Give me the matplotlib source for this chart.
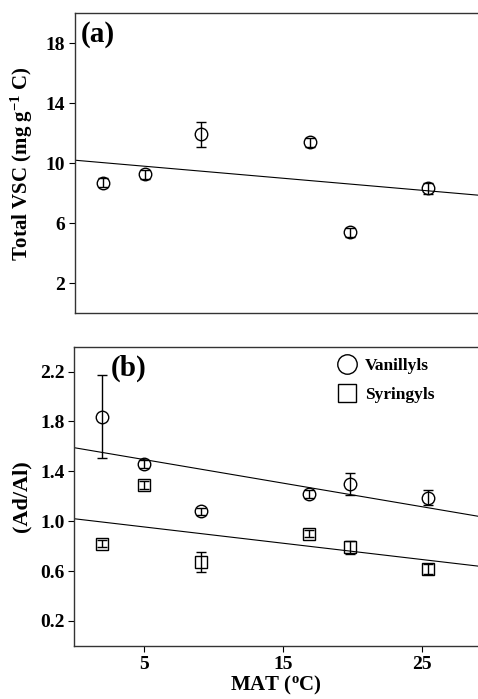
import numpy as np
import matplotlib.pyplot as plt
from matplotlib.lines import Line2D

plt.rcParams["font.family"] = ["Liberation Serif", "DejaVu Serif"]
plt.rcParams["font.weight"] = "bold"
plt.rcParams["mathtext.fontset"] = "custom"
plt.rcParams["mathtext.rm"] = "Liberation Serif:bold"
plt.rcParams["mathtext.it"] = "Liberation Serif:bold"
plt.rcParams["mathtext.bf"] = "Liberation Serif:bold"
plt.rcParams["mathtext.default"] = "rm"

# ── Data ──────────────────────────────────────────────────────────────────────

mat = [2.0, 5.0, 9.1, 16.9, 19.8, 25.4]

vsc = [8.7, 9.25, 11.93, 11.4, 5.4, 8.33]
vsc_err = [0.3, 0.3, 0.83, 0.3, 0.3, 0.35]
vsc_fit = [10.2, 7.87]  # line at x = 0 and x = 29

vanillyl = [1.84, 1.46, 1.08, 1.22, 1.30, 1.19]
vanillyl_err = [0.33, 0.03, 0.03, 0.03, 0.09, 0.06]
vanillyl_fit = [1.59, 1.04]

syringyl = [0.82, 1.29, 0.67, 0.90, 0.79, 0.62]
syringyl_err = [0.03, 0.03, 0.08, 0.03, 0.05, 0.04]
syringyl_fit = [1.02, 0.64]

fit_x = [0.0, 29.0]
xlim = (0.0, 29.0)

ERR_KW = dict(mfc="none", mec="black", mew=1.0, ecolor="black",
              elinewidth=1.0, capsize=3.5, capthick=1.0)


def style_axes(ax):
    ax.spines["right"].set_visible(False)
    for s in ("top", "left", "bottom"):
        ax.spines[s].set_linewidth(1.0)
        ax.spines[s].set_color("#333333")
    ax.tick_params(direction="out", length=4, width=0.8, labelsize=14,
                   right=False, top=False, pad=3)
    for lbl in ax.get_xticklabels() + ax.get_yticklabels():
        lbl.set_fontweight("bold")


fig = plt.figure(figsize=(4.78, 6.99), dpi=100)

# ── Panel (a) ─────────────────────────────────────────────────────────────────
ax1 = fig.add_axes([0.157, 0.552, 0.843, 0.429])
ax1.errorbar(mat, vsc, yerr=vsc_err, fmt="o", ms=9, **ERR_KW)
ax1.plot(fit_x, vsc_fit, color="black", lw=0.8)
ax1.set_xlim(*xlim)
ax1.set_ylim(0, 20)
ax1.set_yticks([2, 6, 10, 14, 18])
ax1.set_xticks([])
ax1.set_ylabel(r"Total VSC (mg g$^{-1}$ C)", fontsize=15,
               fontweight="bold", labelpad=8)
ax1.text(0.015, 0.975, "(a)", transform=ax1.transAxes, fontsize=21,
         fontweight="bold", va="top", ha="left")
style_axes(ax1)

# ── Panel (b) ─────────────────────────────────────────────────────────────────
ax2 = fig.add_axes([0.155, 0.076, 0.845, 0.428])
ax2.errorbar(mat, vanillyl, yerr=vanillyl_err, fmt="o", ms=9, **ERR_KW)
ax2.errorbar(mat, syringyl, yerr=syringyl_err, fmt="s", ms=8, **ERR_KW)
ax2.plot(fit_x, vanillyl_fit, color="black", lw=0.8)
ax2.plot(fit_x, syringyl_fit, color="black", lw=0.8)
ax2.set_xlim(*xlim)
ax2.set_ylim(0, 2.4)
ax2.set_yticks([0.2, 0.6, 1.0, 1.4, 1.8, 2.2])
ax2.set_xticks([5, 15, 25])
ax2.set_ylabel("(Ad/Al)", fontsize=16, fontweight="bold", labelpad=6)
ax2.set_xlabel(r"MAT ($^{o}$C)", fontsize=15, fontweight="bold",
               labelpad=1)
ax2.text(0.09, 0.975, "(b)", transform=ax2.transAxes, fontsize=21,
         fontweight="bold", va="top", ha="left")

legend_handles = [
    Line2D([], [], ls="none", marker="o", ms=14, mfc="none", mec="black",
           mew=1.0),
    Line2D([], [], ls="none", marker="s", ms=13, mfc="none", mec="black",
           mew=1.0),
]
leg = ax2.legend(legend_handles, ["Vanillyls", "Syringyls"], loc="upper left",
                 frameon=False, fontsize=12.5, handletextpad=0.2,
                 borderaxespad=0.0, bbox_to_anchor=(0.625, 0.985),
                 labelspacing=0.75, handlelength=1.6)
for t in leg.get_texts():
    t.set_fontweight("bold")
style_axes(ax2)

fig.savefig("out.png", dpi=100)
